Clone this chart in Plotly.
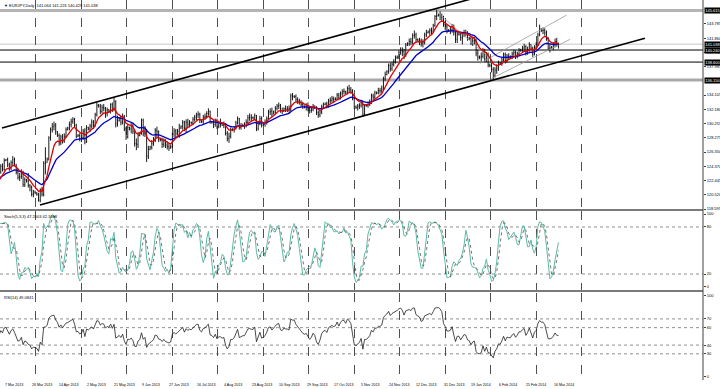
import plotly.graph_objects as go

# ---------------- data (daily bars, index 0 = 7 Mar 2013) ----------------
FIRST_BAR = -30
close = [
    125.4, 125.9, 126.5, 126.9, 126.2, 125.6, 125.1, 124.7, 125.3, 124.6,
    124.1, 123.5, 123.9, 124.4, 124.9, 124.2, 123.2, 121.8, 120.4, 119.9,
    120.3, 120.8, 121.4, 121.0, 121.7, 122.3, 123.1, 122.6, 123.6, 124.4,
    124.0, 125.2,
    125.3, 124.6, 124.1, 124.9, 125.3, 124.7,
    123.6, 122.9, 123.0, 123.6, 121.9, 122.6,
    122.4, 121.8, 121.6, 120.6, 120.9, 120.8,
    120.6, 119.8, 121.2, 120.6, 124.8, 124.9,
    125.4, 128.3, 129.4, 129.8, 130.0, 129.1,
    128.6, 127.6, 128.4, 127.8, 128.5, 129.4,
    129.6, 130.1, 130.5, 130.8, 130.0, 128.5,
    128.6, 128.1, 128.3, 129.2, 127.7, 129.7,
    129.5, 129.9, 130.4, 130.0, 131.4, 132.7,
    132.6, 131.9, 132.4, 132.3, 131.6, 132.1,
    131.9, 132.8, 132.1, 133.2, 130.2, 130.6,
    130.9, 130.4, 131.2, 129.5, 128.4, 129.7,
    129.5, 129.9, 129.2, 127.5, 127.4, 128.6,
    128.9, 130.7, 128.9, 129.4, 125.8, 126.7,
    127.0, 127.5, 127.9, 129.3, 129.1, 128.1,
    128.0, 127.4, 127.9, 127.3, 127.1, 126.9,
    127.1, 128.8, 129.2, 128.9, 129.2, 129.6,
    129.8, 130.4, 129.6, 130.4, 130.1, 130.4,
    130.3, 130.8, 131.1, 131.4, 131.5, 130.7,
    130.5, 131.1, 131.2, 131.6, 131.9, 130.5,
    130.4, 130.1, 130.6, 129.9, 130.2, 130.2,
    130.0, 130.1, 128.9, 128.2, 128.5, 129.4,
    129.4, 129.6, 130.3, 130.9, 129.7, 129.9,
    130.0, 130.0, 130.4, 131.0, 131.1, 131.0,
    131.0, 131.3, 129.5, 130.2, 130.9, 130.0,
    130.1, 130.4, 130.9, 131.8, 131.9, 131.5,
    131.8, 132.3, 132.6, 132.7, 132.0, 131.9,
    132.3, 132.2, 132.2, 132.1, 134.0, 133.9,
    133.9, 133.5, 133.3, 133.1, 132.8, 132.6,
    132.5, 132.6, 132.3, 132.0, 132.2, 132.6,
    132.4, 131.7, 131.4, 131.8, 132.5, 132.8,
    132.9, 132.7, 133.3, 133.4, 133.6, 133.5,
    133.6, 134.1, 133.8, 134.3, 134.6, 134.6,
    134.4, 135.0, 134.9, 134.7, 133.7, 132.5,
    132.4, 132.6, 132.7, 133.1, 131.5, 132.7,
    132.7, 132.9, 133.2, 134.0, 133.8, 134.4,
    134.4, 134.7, 134.7, 134.9, 136.3, 136.9,
    137.3, 138.1, 137.7, 138.3, 138.6, 139.2,
    139.3, 139.9, 140.2, 140.0, 139.6, 140.9,
    141.1, 141.4, 141.3, 142.2, 142.3, 141.7,
    141.6, 141.5, 141.1, 141.3, 142.3, 142.6,
    142.7, 142.9, 142.8, 143.6, 144.8, 144.9,
    145.0, 144.9, 144.7, 143.7, 143.4, 142.9,
    142.9, 143.0, 143.5, 142.6, 141.7, 142.4,
    142.4, 141.9, 142.3, 142.6, 142.5, 141.9,
    141.8, 141.2, 141.5, 141.6, 139.8, 139.3,
    139.3, 139.4, 140.1, 139.0, 139.5, 138.2,
    138.1, 137.6, 136.7, 137.5, 137.8, 138.5,
    138.4, 138.9, 139.6, 138.8, 139.4, 139.3,
    139.3, 139.7, 139.9, 139.4, 139.7, 140.2,
    140.2, 140.5, 140.7, 139.9, 140.3, 141.0,
    140.5, 139.7, 140.6, 140.9, 142.3, 143.1,
    142.9, 142.9, 142.6, 141.8, 140.5, 140.5,
    140.6, 140.9, 141.4, 141.064, 141.038,
]
high = [
    125.8, 126.2, 126.8, 127.6, 127.1, 126.5, 125.9, 125.4, 125.6, 125.5,
    124.9, 124.4, 124.3, 124.8, 125.3, 125.1, 124.4, 123.4, 122.3, 120.9,
    120.8, 121.3, 121.8, 121.7, 122.0, 122.6, 123.4, 123.3, 123.9, 124.7,
    124.8, 125.5,
    125.4, 125.6, 124.9, 125.2, 125.8, 125.6,
    124.7, 124.1, 123.5, 124.0, 123.8, 122.9,
    122.7, 123.5, 122.0, 121.8, 121.2, 121.1,
    120.9, 120.8, 121.4, 121.6, 125.1, 127.0,
    125.6, 128.5, 129.7, 130.3, 130.5, 130.3,
    129.2, 128.9, 128.7, 128.8, 128.9, 129.7,
    129.8, 130.5, 130.9, 131.1, 131.0, 130.2,
    128.8, 128.9, 128.7, 129.5, 129.6, 130.0,
    129.8, 130.2, 130.8, 130.7, 131.7, 133.1,
    132.9, 132.9, 132.8, 132.9, 132.5, 132.4,
    132.2, 133.0, 133.1, 133.8, 133.4, 131.3,
    131.1, 131.3, 131.6, 131.4, 129.8, 130.1,
    129.8, 130.3, 130.3, 129.5, 128.2, 129.1,
    129.1, 130.9, 130.9, 129.9, 129.5, 127.2,
    127.2, 128.0, 128.4, 129.6, 129.8, 129.3,
    128.3, 128.3, 128.2, 128.1, 127.8, 127.6,
    127.3, 129.0, 129.6, 129.5, 129.5, 130.2,
    130.0, 130.7, 130.6, 130.8, 130.9, 130.7,
    130.5, 131.1, 131.4, 131.7, 131.9, 131.7,
    130.8, 131.4, 131.6, 131.9, 132.3, 132.0,
    130.6, 130.7, 130.9, 130.9, 130.6, 130.9,
    130.3, 130.5, 130.3, 129.2, 129.0, 129.7,
    129.6, 129.9, 130.6, 131.2, 131.0, 130.3,
    130.2, 130.4, 130.8, 131.4, 131.6, 131.5,
    131.2, 131.6, 131.4, 130.6, 131.3, 131.2,
    130.3, 130.8, 131.2, 132.1, 132.3, 132.4,
    132.0, 132.6, 132.9, 133.1, 132.9, 132.4,
    132.4, 132.7, 132.6, 132.7, 134.3, 134.4,
    134.1, 134.2, 133.8, 133.6, 133.4, 133.2,
    132.7, 133.0, 133.1, 132.6, 132.6, 132.9,
    132.7, 132.6, 132.0, 132.1, 132.8, 133.1,
    133.1, 133.2, 133.6, 133.8, 134.0, 133.9,
    133.8, 134.4, 134.4, 134.6, 134.9, 135.0,
    134.7, 135.3, 135.5, 135.2, 134.9, 133.9,
    132.7, 132.9, 133.0, 133.4, 133.3, 132.9,
    132.9, 133.2, 133.5, 134.3, 134.3, 134.7,
    134.6, 135.1, 135.1, 135.4, 136.6, 137.3,
    137.5, 138.4, 138.5, 138.6, 139.0, 139.5,
    139.5, 140.2, 140.6, 140.6, 140.4, 141.2,
    141.3, 141.8, 141.9, 142.5, 142.9, 142.6,
    141.8, 141.9, 141.8, 141.7, 142.6, 143.0,
    142.9, 143.2, 143.3, 143.8, 145.0, 145.7,
    145.2, 145.5, 145.2, 144.9, 144.2, 143.7,
    143.1, 143.4, 143.8, 143.7, 142.8, 142.8,
    142.6, 142.7, 142.7, 143.0, 143.0, 142.8,
    142.0, 142.1, 141.9, 142.0, 141.8, 140.3,
    139.5, 139.9, 140.5, 140.4, 139.9, 139.9,
    138.4, 138.5, 137.9, 137.9, 138.3, 138.8,
    138.6, 139.2, 139.9, 139.9, 139.7, 139.8,
    139.5, 140.0, 140.3, 140.2, 140.0, 140.5,
    140.4, 140.8, 141.1, 140.9, 140.7, 141.3,
    141.0, 140.7, 140.9, 141.3, 142.6, 143.7,
    143.2, 143.3, 143.2, 142.9, 142.0, 141.1,
    140.8, 141.3, 141.8, 141.9, 141.223,
]
low = [
    124.9, 125.1, 125.7, 126.3, 125.9, 125.2, 124.8, 124.2, 124.5, 124.3,
    123.8, 123.1, 123.2, 123.7, 124.1, 123.9, 122.9, 121.4, 119.6, 119.2,
    119.6, 120.0, 120.6, 120.6, 120.8, 121.5, 122.0, 122.3, 122.4, 123.4,
    123.7, 123.8,
    125.1, 124.3, 123.8, 123.9, 124.6, 124.4,
    123.3, 122.6, 122.4, 122.7, 121.6, 121.6,
    122.2, 121.5, 121.0, 120.3, 120.2, 120.6,
    120.4, 119.6, 119.5, 120.3, 120.3, 123.3,
    124.9, 125.2, 127.9, 129.0, 129.3, 128.7,
    128.4, 127.2, 127.3, 127.5, 127.6, 128.3,
    129.3, 129.3, 129.7, 130.2, 129.7, 128.2,
    128.4, 127.8, 127.7, 128.0, 127.4, 127.6,
    129.3, 129.1, 129.6, 129.5, 129.8, 131.2,
    132.4, 131.5, 131.6, 131.9, 131.0, 131.2,
    131.7, 131.6, 131.8, 131.9, 129.7, 129.8,
    130.5, 130.0, 130.1, 129.2, 128.0, 128.2,
    129.3, 128.9, 128.8, 127.1, 126.6, 126.9,
    128.5, 128.7, 128.5, 128.4, 125.0, 125.4,
    126.6, 126.7, 127.2, 127.7, 128.4, 127.7,
    127.8, 126.9, 127.0, 126.9, 126.7, 126.5,
    126.8, 126.9, 128.4, 128.3, 128.6, 128.3,
    129.5, 129.4, 129.2, 129.0, 129.7, 129.7,
    130.1, 130.0, 130.5, 130.7, 131.0, 130.3,
    130.3, 130.2, 130.7, 130.9, 131.3, 130.2,
    130.2, 129.6, 129.8, 129.5, 129.6, 129.7,
    129.9, 129.6, 128.6, 127.8, 127.6, 128.2,
    129.2, 129.0, 129.4, 130.1, 129.4, 129.4,
    129.8, 129.5, 129.7, 130.2, 130.6, 130.6,
    130.8, 130.7, 129.2, 129.3, 130.0, 129.7,
    129.9, 129.8, 130.1, 130.7, 131.4, 131.1,
    131.5, 131.5, 132.0, 132.2, 131.7, 131.5,
    131.8, 131.8, 131.8, 131.6, 131.9, 133.4,
    133.7, 133.2, 132.9, 132.8, 132.5, 132.2,
    132.3, 132.0, 131.9, 131.6, 131.7, 131.9,
    132.2, 131.4, 131.0, 131.1, 131.5, 132.2,
    132.7, 132.3, 132.4, 132.9, 133.1, 133.0,
    133.4, 133.4, 133.4, 133.5, 134.0, 134.2,
    134.2, 134.2, 134.5, 134.3, 133.4, 132.2,
    132.2, 132.0, 132.2, 132.4, 131.2, 131.3,
    132.5, 132.4, 132.6, 132.9, 133.4, 133.6,
    134.2, 134.2, 134.3, 134.4, 134.7, 136.0,
    136.8, 137.0, 137.3, 137.4, 138.0, 138.4,
    139.0, 139.0, 139.6, 139.4, 139.0, 139.3,
    140.8, 140.8, 140.9, 141.0, 141.8, 141.3,
    141.4, 140.9, 140.7, 140.6, 141.0, 142.0,
    142.5, 142.3, 142.4, 142.6, 143.4, 144.3,
    144.8, 144.3, 144.1, 143.4, 142.9, 142.5,
    142.7, 142.4, 142.6, 142.2, 141.2, 141.2,
    142.2, 141.5, 141.0, 142.0, 142.1, 141.5,
    141.6, 140.9, 140.8, 141.0, 139.4, 138.8,
    139.0, 138.7, 139.1, 138.6, 138.6, 137.9,
    137.9, 137.2, 136.2, 136.5, 137.0, 137.4,
    138.2, 138.1, 138.6, 138.4, 138.5, 138.9,
    139.1, 139.0, 139.4, 139.0, 139.1, 139.4,
    140.0, 139.9, 140.1, 139.5, 139.6, 140.0,
    140.3, 139.3, 139.5, 140.3, 140.8, 142.1,
    142.7, 142.4, 142.2, 141.5, 140.2, 139.9,
    140.4, 140.2, 140.6, 140.7, 140.429,
]

date_labels = ["7 Mar 2013", "26 Mar 2013", "14 Apr 2013", "2 May 2013", "21 May 2013",
               "9 Jun 2013", "27 Jun 2013", "16 Jul 2013", "4 Aug 2013", "23 Aug 2013",
               "10 Sep 2013", "29 Sep 2013", "17 Oct 2013", "5 Nov 2013", "24 Nov 2013",
               "12 Dec 2013", "31 Dec 2013", "19 Jan 2014", "6 Feb 2014", "25 Feb 2014",
               "16 Mar 2014"]
LABEL_EVERY = 16  # bars between date labels

# scale labels visible on the price axis (the one under the 136.150 box is hidden there)
price_ticks = [143.785, 141.860, 139.935, 137.985, 134.105, 132.180,
               130.255, 128.275, 126.350, 124.370, 122.445, 120.520, 118.595]
stoch_ticks = [0, 20, 80, 100]
rsi_ticks = [0, 30, 40, 60, 70, 100]
stoch_levels = [20, 80]
rsi_levels = [30, 40, 60, 70]

# horizontal line objects: (price, colour, width, boxed label)
hlines = [(145.615, "#b4b4b4", 3, "145.615"),
          (141.038, "#c8c8c8", 1, "141.038"),
          (140.240, "#000000", 1, "140.240"),
          (138.600, "#000000", 1, "138.600"),
          (136.150, "#a8a8a8", 3, "136.150")]

# trend lines: (bar, price) pairs
channel_upper = [(-0.3, 129.62), (280.0, 147.64)]
channel_lower = [(21.85, 119.13), (374.4, 141.85)]
thin_down = [(253.2, 145.41), (285.3, 138.87)]
thin_up_lower = [(285.1, 136.38), (330.7, 141.69)]
thin_up_upper = [(278.3, 138.43), (328.8, 145.00)]

title_text = "\u25BC EURJPY,Daily  141.064 141.223 140.429 141.038"
stoch_text = "Stoch(5,3,3) 47.2003 42.1668"
rsi_text = "RSI(14) 49.0841"

# ---------------- indicators ----------------
n = len(close)
bars = list(range(FIRST_BAR, FIRST_BAR + n))
opens = [close[0]] + close[:-1]


def ema(vals, period):
    k = 2.0 / (period + 1)
    out, e = [], vals[0]
    for v in vals:
        e = e + k * (v - e)
        out.append(e)
    return out


def stochastic(h, l, c, kp=5, slow=3, dp=3):
    num, den = [], []
    for i in range(len(c)):
        a = max(0, i - kp + 1)
        hh, ll = max(h[a:i + 1]), min(l[a:i + 1])
        num.append(c[i] - ll)
        den.append(hh - ll)
    K = []
    for i in range(len(c)):
        a = max(0, i - slow + 1)
        s = sum(den[a:i + 1])
        K.append(100.0 * sum(num[a:i + 1]) / s if s else 50.0)
    D = []
    for i in range(len(c)):
        a = max(0, i - dp + 1)
        D.append(sum(K[a:i + 1]) / (i + 1 - a))
    return K, D


def rsi(c, period=14):
    out = [50.0]
    ag = al = 0.0
    for i in range(1, len(c)):
        d = c[i] - c[i - 1]
        g, lo = max(d, 0), max(-d, 0)
        if i <= period:
            ag += g / period
            al += lo / period
        else:
            ag = (ag * (period - 1) + g) / period
            al = (al * (period - 1) + lo) / period
        out.append(100.0 if al == 0 else 100 - 100 / (1 + ag / al))
    return out


ma_fast = ema(close, 8)
ma_slow = ema(close, 21)
stK, stD = stochastic(high, low, close)
rsi_v = rsi(close)

# ---------------- geometry ----------------
PX_PER_BAR = 1.716
BAR0_PX = 2.5
PLOT_W, PLOT_H = 703, 380
x_lo = (0 - BAR0_PX) / PX_PER_BAR
x_hi = (PLOT_W - BAR0_PX) / PX_PER_BAR
grid_bars = [19.5 + 26.5 * k for k in range(13)]


def pfrac(px):  # pixel from top -> paper fraction
    return (PLOT_H - px) / PLOT_H


main_dom = [pfrac(210), 1.0]
stoch_dom = [pfrac(289.7), pfrac(211.3)]
rsi_dom = [0.0, pfrac(292.75)]
main_range = [118.46, 147.05]

# end labels of the oscillator scales are drawn inside the panel (as the terminal does)
EDGE_INSET = 3.5


def inset(v):
    return EDGE_INSET if v == 0 else (100 - EDGE_INSET if v == 100 else v)


FONT = "Liberation Sans"
FS = 4.0
FS_DATE = 3.6

fig = go.Figure()

# trend lines (under bars)
for pts, col, w in [(channel_upper, "black", 1.6), (channel_lower, "black", 1.6),
                    (thin_down, "#9a9a9a", 0.8), (thin_up_lower, "#9a9a9a", 0.8),
                    (thin_up_upper, "#9a9a9a", 0.8)]:
    fig.add_trace(go.Scatter(x=[p[0] for p in pts], y=[p[1] for p in pts], mode="lines",
                             line=dict(color=col, width=w), xaxis="x", yaxis="y",
                             hoverinfo="skip", showlegend=False))

fig.add_trace(go.Ohlc(x=bars, open=opens, high=high, low=low, close=close,
                      increasing_line_color="black", decreasing_line_color="black",
                      line_width=0.9, tickwidth=0.3, xaxis="x", yaxis="y",
                      hoverinfo="skip", showlegend=False))
fig.add_trace(go.Scatter(x=bars, y=ma_slow, mode="lines", line=dict(color="#0000c8", width=1.3),
                         xaxis="x", yaxis="y", hoverinfo="skip", showlegend=False))
fig.add_trace(go.Scatter(x=bars, y=ma_fast, mode="lines", line=dict(color="#e00000", width=1.3),
                         xaxis="x", yaxis="y", hoverinfo="skip", showlegend=False))

fig.add_trace(go.Scatter(x=bars, y=stK, mode="lines", line=dict(color="#5cb9a6", width=1),
                         xaxis="x", yaxis="y2", hoverinfo="skip", showlegend=False))
fig.add_trace(go.Scatter(x=bars, y=stD, mode="lines", line=dict(color="#505050", width=0.8, dash="dot"),
                         xaxis="x", yaxis="y2", hoverinfo="skip", showlegend=False))
fig.add_trace(go.Scatter(x=bars, y=rsi_v, mode="lines", line=dict(color="#202020", width=0.8),
                         xaxis="x", yaxis="y3", hoverinfo="skip", showlegend=False))

shapes = []
for price, col, w, _ in hlines:
    shapes.append(dict(type="line", xref="paper", yref="y", x0=0, x1=1, y0=price, y1=price,
                       line=dict(color=col, width=w), layer="below"))
for lv in stoch_levels:
    shapes.append(dict(type="line", xref="paper", yref="y2", x0=0, x1=1, y0=lv, y1=lv,
                       line=dict(color="#909090", width=1, dash="dot"), layer="below"))
for lv in rsi_levels:
    shapes.append(dict(type="line", xref="paper", yref="y3", x0=0, x1=1, y0=lv, y1=lv,
                       line=dict(color="#909090", width=1, dash="dot"), layer="below"))
for px in (210, 291):
    shapes.append(dict(type="line", xref="paper", yref="paper", x0=0, x1=1,
                       y0=pfrac(px), y1=pfrac(px), line=dict(color="#7a7a7a", width=2)))
shapes.append(dict(type="line", xref="paper", yref="paper", x0=1, x1=1, y0=0, y1=1,
                   line=dict(color="#404040", width=1)))

annotations = []
for k, txt in enumerate(date_labels):
    annotations.append(dict(x=k * LABEL_EVERY, xref="x", y=0, yref="paper", yanchor="top",
                            xanchor="left", text=txt, showarrow=False, yshift=-1,
                            font=dict(family=FONT, size=FS_DATE, color="black")))
for price, col, w, txt in hlines:
    annotations.append(dict(x=1, xref="paper", y=price, yref="y", xanchor="left", yanchor="middle",
                            text=txt, showarrow=False, xshift=1, bgcolor="black", borderpad=0.2,
                            font=dict(family=FONT, size=FS, color="white")))
annotations.append(dict(x=0, xref="paper", y=1, yref="paper", xanchor="left", yanchor="top",
                        text=title_text, showarrow=False, xshift=2, yshift=-1,
                        font=dict(family=FONT, size=FS, color="black")))
annotations.append(dict(x=0, xref="paper", y=pfrac(212), yref="paper", xanchor="left", yanchor="top",
                        text=stoch_text, showarrow=False, xshift=2,
                        font=dict(family=FONT, size=FS, color="black")))
annotations.append(dict(x=0, xref="paper", y=pfrac(293), yref="paper", xanchor="left", yanchor="top",
                        text=rsi_text, showarrow=False, xshift=2,
                        font=dict(family=FONT, size=FS, color="black")))

yax_common = dict(side="right", anchor="x", tickmode="array", ticks="outside", ticklen=2,
                  tickcolor="#404040", showgrid=False, zeroline=False, showline=False,
                  tickfont=dict(family=FONT, size=FS, color="black"), fixedrange=True)

fig.update_layout(
    width=720, height=389,
    margin=dict(l=0, r=17, t=0, b=9, autoexpand=False),
    paper_bgcolor="white", plot_bgcolor="white", showlegend=False,
    font=dict(family=FONT, size=FS, color="black"),
    xaxis=dict(domain=[0, 1], range=[x_lo, x_hi], anchor="y3", tickmode="array",
               tickvals=grid_bars, showticklabels=False, ticks="", showgrid=True,
               gridcolor="#505050", griddash="dash", gridwidth=1, zeroline=False,
               showline=False, rangeslider=dict(visible=False), fixedrange=True),
    yaxis=dict(domain=main_dom, range=main_range, tickvals=price_ticks,
               ticktext=[f"{v:.3f}" for v in price_ticks], **yax_common),
    yaxis2=dict(domain=stoch_dom, range=[0, 100], tickvals=[inset(v) for v in stoch_ticks],
                ticktext=[str(v) for v in stoch_ticks], **yax_common),
    yaxis3=dict(domain=rsi_dom, range=[0, 100], tickvals=[inset(v) for v in rsi_ticks],
                ticktext=[str(v) for v in rsi_ticks], **yax_common),
    shapes=shapes, annotations=annotations,
)

fig.write_html("out.html", config={"displayModeBar": False},
               post_script="document.body.style.margin='0px';document.body.style.overflow='hidden';")
